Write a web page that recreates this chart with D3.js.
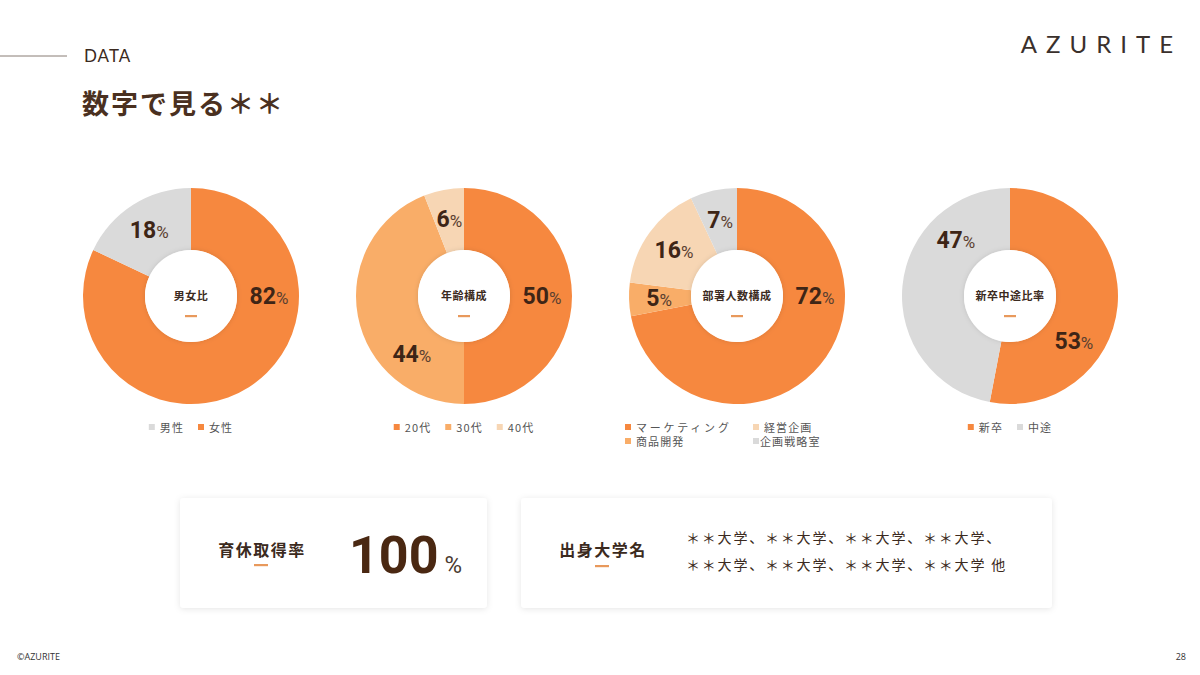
<!DOCTYPE html>
<html><head><meta charset="utf-8">
<script src="https://cdn.jsdelivr.net/npm/d3@7/dist/d3.min.js"></script>
<style>
html,body{margin:0;padding:0;background:#fff;}
svg{display:block;font-family:"Noto Sans CJK JP","Noto Sans",sans-serif;}
</style></head>
<body><svg id="c" width="1200" height="675"></svg>
<script>
// ---- data ----
const chartTitles = ["男女比", "年齢構成", "部署人数構成", "新卒中途比率"];
const genderCats = ["女性", "男性"];
const genderVals = [82, 18];
const ageCats = ["20代", "30代", "40代"];
const ageVals = [50, 44, 6];
const deptCats = ["マーケティング", "商品開発", "経営企画", "企画戦略室"];
const deptVals = [72, 5, 16, 7];
const hireCats = ["新卒", "中途"];
const hireVals = [53, 47];
const leaveLabel = "育休取得率";
const leaveRate = 100;
const uniLabel = "出身大学名";
const uniLines = ["＊＊大学、＊＊大学、＊＊大学、＊＊大学、", "＊＊大学、＊＊大学、＊＊大学、＊＊大学 他"];

// ---- styles ----
const C_OR = "#F6883F", C_LO = "#F9AD68", C_PA = "#F7D6B4", C_GR = "#DADADA";
const DARK = "#3E2516";
const colorMap = {"女性":C_OR,"男性":C_GR,"20代":C_OR,"30代":C_LO,"40代":C_PA,
  "マーケティング":C_OR,"商品開発":C_LO,"経営企画":C_PA,"企画戦略室":C_GR,"新卒":C_OR,"中途":C_GR};

const charts = [
  {cats: genderCats, vals: genderVals, legend: [["男性","女性"]], labelAngle: [90, null]},
  {cats: ageCats, vals: ageVals, legend: [["20代","30代","40代"]], labelAngle: [null, 222, null]},
  {cats: deptCats, vals: deptVals, legend: [["マーケティング","経営企画"],["商品開発","企画戦略室"]], labelAngle: [90, null, null, null]},
  {cats: hireCats, vals: hireVals, legend: [["新卒","中途"]], labelAngle: [125, 316]}
];

const svg = d3.select("#c");
const defs = svg.append("defs");
const f = defs.append("filter").attr("id","sh").attr("x","-20%").attr("y","-20%").attr("width","140%").attr("height","140%");
f.append("feDropShadow").attr("dx",0).attr("dy",1).attr("stdDeviation",3).attr("flood-color","#000").attr("flood-opacity",0.10);
const f2 = defs.append("filter").attr("id","sh2").attr("x","-20%").attr("y","-20%").attr("width","140%").attr("height","140%");
f2.append("feDropShadow").attr("dx",0).attr("dy",0).attr("stdDeviation",2.5).attr("flood-color","#000").attr("flood-opacity",0.12);

// header
svg.append("line").attr("x1",0).attr("x2",67).attr("y1",56).attr("y2",56).attr("stroke","#6b5a50").attr("stroke-width",0.8);
svg.append("text").attr("x",84).attr("y",62).text("DATA").attr("font-family","Lato, 'Open Sans', sans-serif")
  .attr("font-size",17).attr("letter-spacing",1).attr("fill","#3b2a20");
svg.append("text").attr("x",82).attr("y",114).text("数字で見る＊＊").attr("font-size",27).attr("font-weight",700)
  .attr("letter-spacing",2).attr("fill","#4a3020");
svg.append("text").attr("x",1182).attr("y",53).attr("text-anchor","end").text("AZURITE")
  .attr("font-family","Lato, 'Open Sans', sans-serif").attr("font-size",24).attr("font-weight",400)
  .attr("letter-spacing",9).attr("fill","#3a302c");

// donuts
const cx0 = 191, dx = 273, cy = 296, R = 108, r0 = 46;
const pie = d3.pie().sort(null).value(d => d.v);
const arc = d3.arc().innerRadius(r0).outerRadius(R);
const midR = 78;

charts.forEach((ch, i) => {
  const g = svg.append("g").attr("transform", `translate(${cx0 + i*dx},${cy})`);
  const data = ch.cats.map((c, k) => ({c, v: ch.vals[k]}));
  const arcs = pie(data);
  g.selectAll("path.s").data(arcs).join("path").attr("class","s")
    .attr("d", arc).attr("fill", d => colorMap[d.data.c]);
  g.append("circle").attr("r", r0).attr("fill","#fff").attr("filter","url(#sh2)");
  g.append("text").attr("y",4).attr("text-anchor","middle").text(chartTitles[i])
    .attr("font-size",11).attr("font-weight",700).attr("letter-spacing",0.5).attr("fill","#3b2a20");
  g.append("rect").attr("x",-6).attr("y",19).attr("width",12).attr("height",2.2).attr("fill","#E8995C");
  // labels
  arcs.forEach((a, k) => {
    let ang;
    if (ch.labelAngle[k] != null) ang = ch.labelAngle[k] * Math.PI / 180;
    else ang = (a.startAngle + a.endAngle) / 2;
    const x = midR * Math.sin(ang), y = -midR * Math.cos(ang);
    const t = g.append("text").attr("x", x).attr("y", y + 8).attr("text-anchor","middle");
    t.append("tspan").text(a.data.v).attr("font-family","Roboto, 'Liberation Sans', sans-serif")
      .attr("font-size",23).attr("font-weight",700).attr("fill",DARK);
    t.append("tspan").text("%").attr("font-family","Roboto, 'Liberation Sans', sans-serif")
      .attr("font-size",17).attr("fill","#5a4030");
  });
  // legend
  const lg = svg.append("g").attr("transform", `translate(${cx0 + i*dx},428)`);
  ch.legend.forEach((row, ri) => {
    const rowG = lg.append("g").attr("transform", `translate(0,${ri*14})`);
    const items = [];
    row.forEach((name) => {
      const it = rowG.append("g");
      it.append("rect").attr("x",0).attr("y",-4).attr("width",6).attr("height",6).attr("fill",colorMap[name]);
      const ls = name.length > 5 ? 2.8 : 1.1;
      const tx = it.append("text").attr("x", name.length === 5 ? 7 : 11).attr("y",4).text(name).attr("font-size",11).attr("fill","#555")
        .attr("letter-spacing", ls);
      items.push({it, w: 11 + tx.node().getComputedTextLength()});
    });
    if (ch.legend.length > 1) {
      const colX = [-112, 16];
      items.forEach((o, ci) => o.it.attr("transform", `translate(${colX[ci]},0)`));
    } else {
      const gap = 14;
      const total = d3.sum(items, o => o.w) + gap * (items.length - 1);
      let xx = -total / 2;
      items.forEach(o => { o.it.attr("transform", `translate(${xx},0)`); xx += o.w + gap; });
    }
  });
});

// cards
const card1 = svg.append("g");
card1.append("rect").attr("x",180).attr("y",498).attr("width",307).attr("height",110).attr("rx",4)
  .attr("fill","#fff").attr("filter","url(#sh)");
card1.append("text").attr("x",262).attr("y",556).attr("text-anchor","middle").text(leaveLabel)
  .attr("font-size",16).attr("font-weight",700).attr("letter-spacing",1.5).attr("fill","#3b2a20");
card1.append("rect").attr("x",254).attr("y",564).attr("width",14).attr("height",2.2).attr("fill","#E8995C");
const big = card1.append("text").attr("x",349).attr("y",573);
big.append("tspan").text(leaveRate).attr("font-family","Roboto, 'Liberation Sans', sans-serif")
  .attr("font-size",52).attr("font-weight",700).attr("fill","#4a2812");
big.append("tspan").text("%").attr("dx",6).attr("font-family","Roboto, 'Liberation Sans', sans-serif")
  .attr("font-size",24).attr("fill","#4a3a30");

const card2 = svg.append("g");
card2.append("rect").attr("x",521).attr("y",498).attr("width",531).attr("height",110).attr("rx",4)
  .attr("fill","#fff").attr("filter","url(#sh)");
card2.append("text").attr("x",603).attr("y",556).attr("text-anchor","middle").text(uniLabel)
  .attr("font-size",16).attr("font-weight",700).attr("letter-spacing",1.5).attr("fill","#3b2a20");
card2.append("rect").attr("x",595).attr("y",565).attr("width",14).attr("height",2.2).attr("fill","#E8995C");
uniLines.forEach((l, k) => {
  card2.append("text").attr("x",686).attr("y",543 + k*27).text(l)
    .attr("font-size",14).attr("fill","#3b2a20").attr("letter-spacing",1.8);
});

// footer
svg.append("text").attr("x",17).attr("y",660).text("©AZURITE").attr("font-family","'Open Sans', sans-serif")
  .attr("font-size",9).attr("fill","#333");
svg.append("text").attr("x",1186).attr("y",660).attr("text-anchor","end").text("28").attr("font-family","'Open Sans', sans-serif")
  .attr("font-size",9).attr("fill","#333");
</script></body></html>
